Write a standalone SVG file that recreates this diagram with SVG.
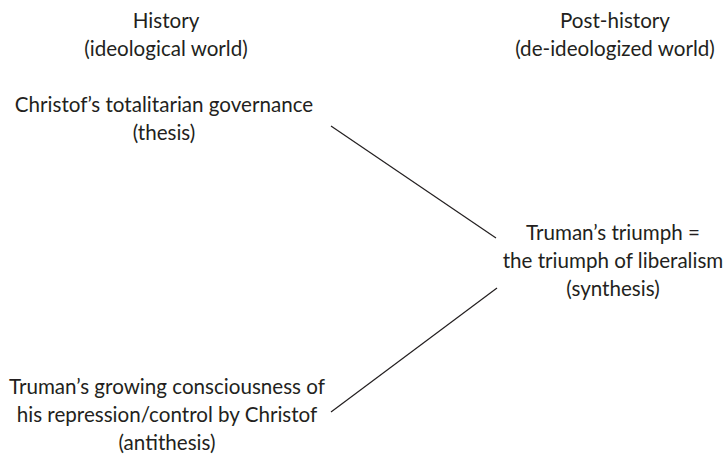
<svg xmlns="http://www.w3.org/2000/svg" width="724" height="457" viewBox="0 0 724 457">
<style>
text{font-family:Lato,"Liberation Sans",sans-serif;font-size:20.6px;fill:#231f20;text-anchor:middle}
.c line{stroke:#231f20;stroke-width:1.2}
</style>
<rect width="724" height="457" fill="#fff"/>
<g id="hdr-history"><text x="166" y="28">History</text><text x="166" y="56">(ideological world)</text></g>
<g id="hdr-post"><text x="615" y="28">Post-history</text><text x="615" y="56">(de-ideologized world)</text></g>
<g id="thesis"><text x="164" y="112">Christof’s totalitarian governance</text><text x="164" y="140">(thesis)</text></g>
<g id="synthesis"><text x="613" y="240">Truman’s triumph =</text><text x="613" y="268">the triumph of liberalism</text><text x="613" y="296">(synthesis)</text></g>
<g id="antithesis"><text x="167" y="394">Truman’s growing consciousness of</text><text x="167" y="422">his repression/control by Christof</text><text x="167" y="450">(antithesis)</text></g>
<g class="c" id="connectors">
<line x1="331" y1="126" x2="496" y2="238"/>
<line x1="497" y1="288" x2="331" y2="412"/>
</g>
</svg>
